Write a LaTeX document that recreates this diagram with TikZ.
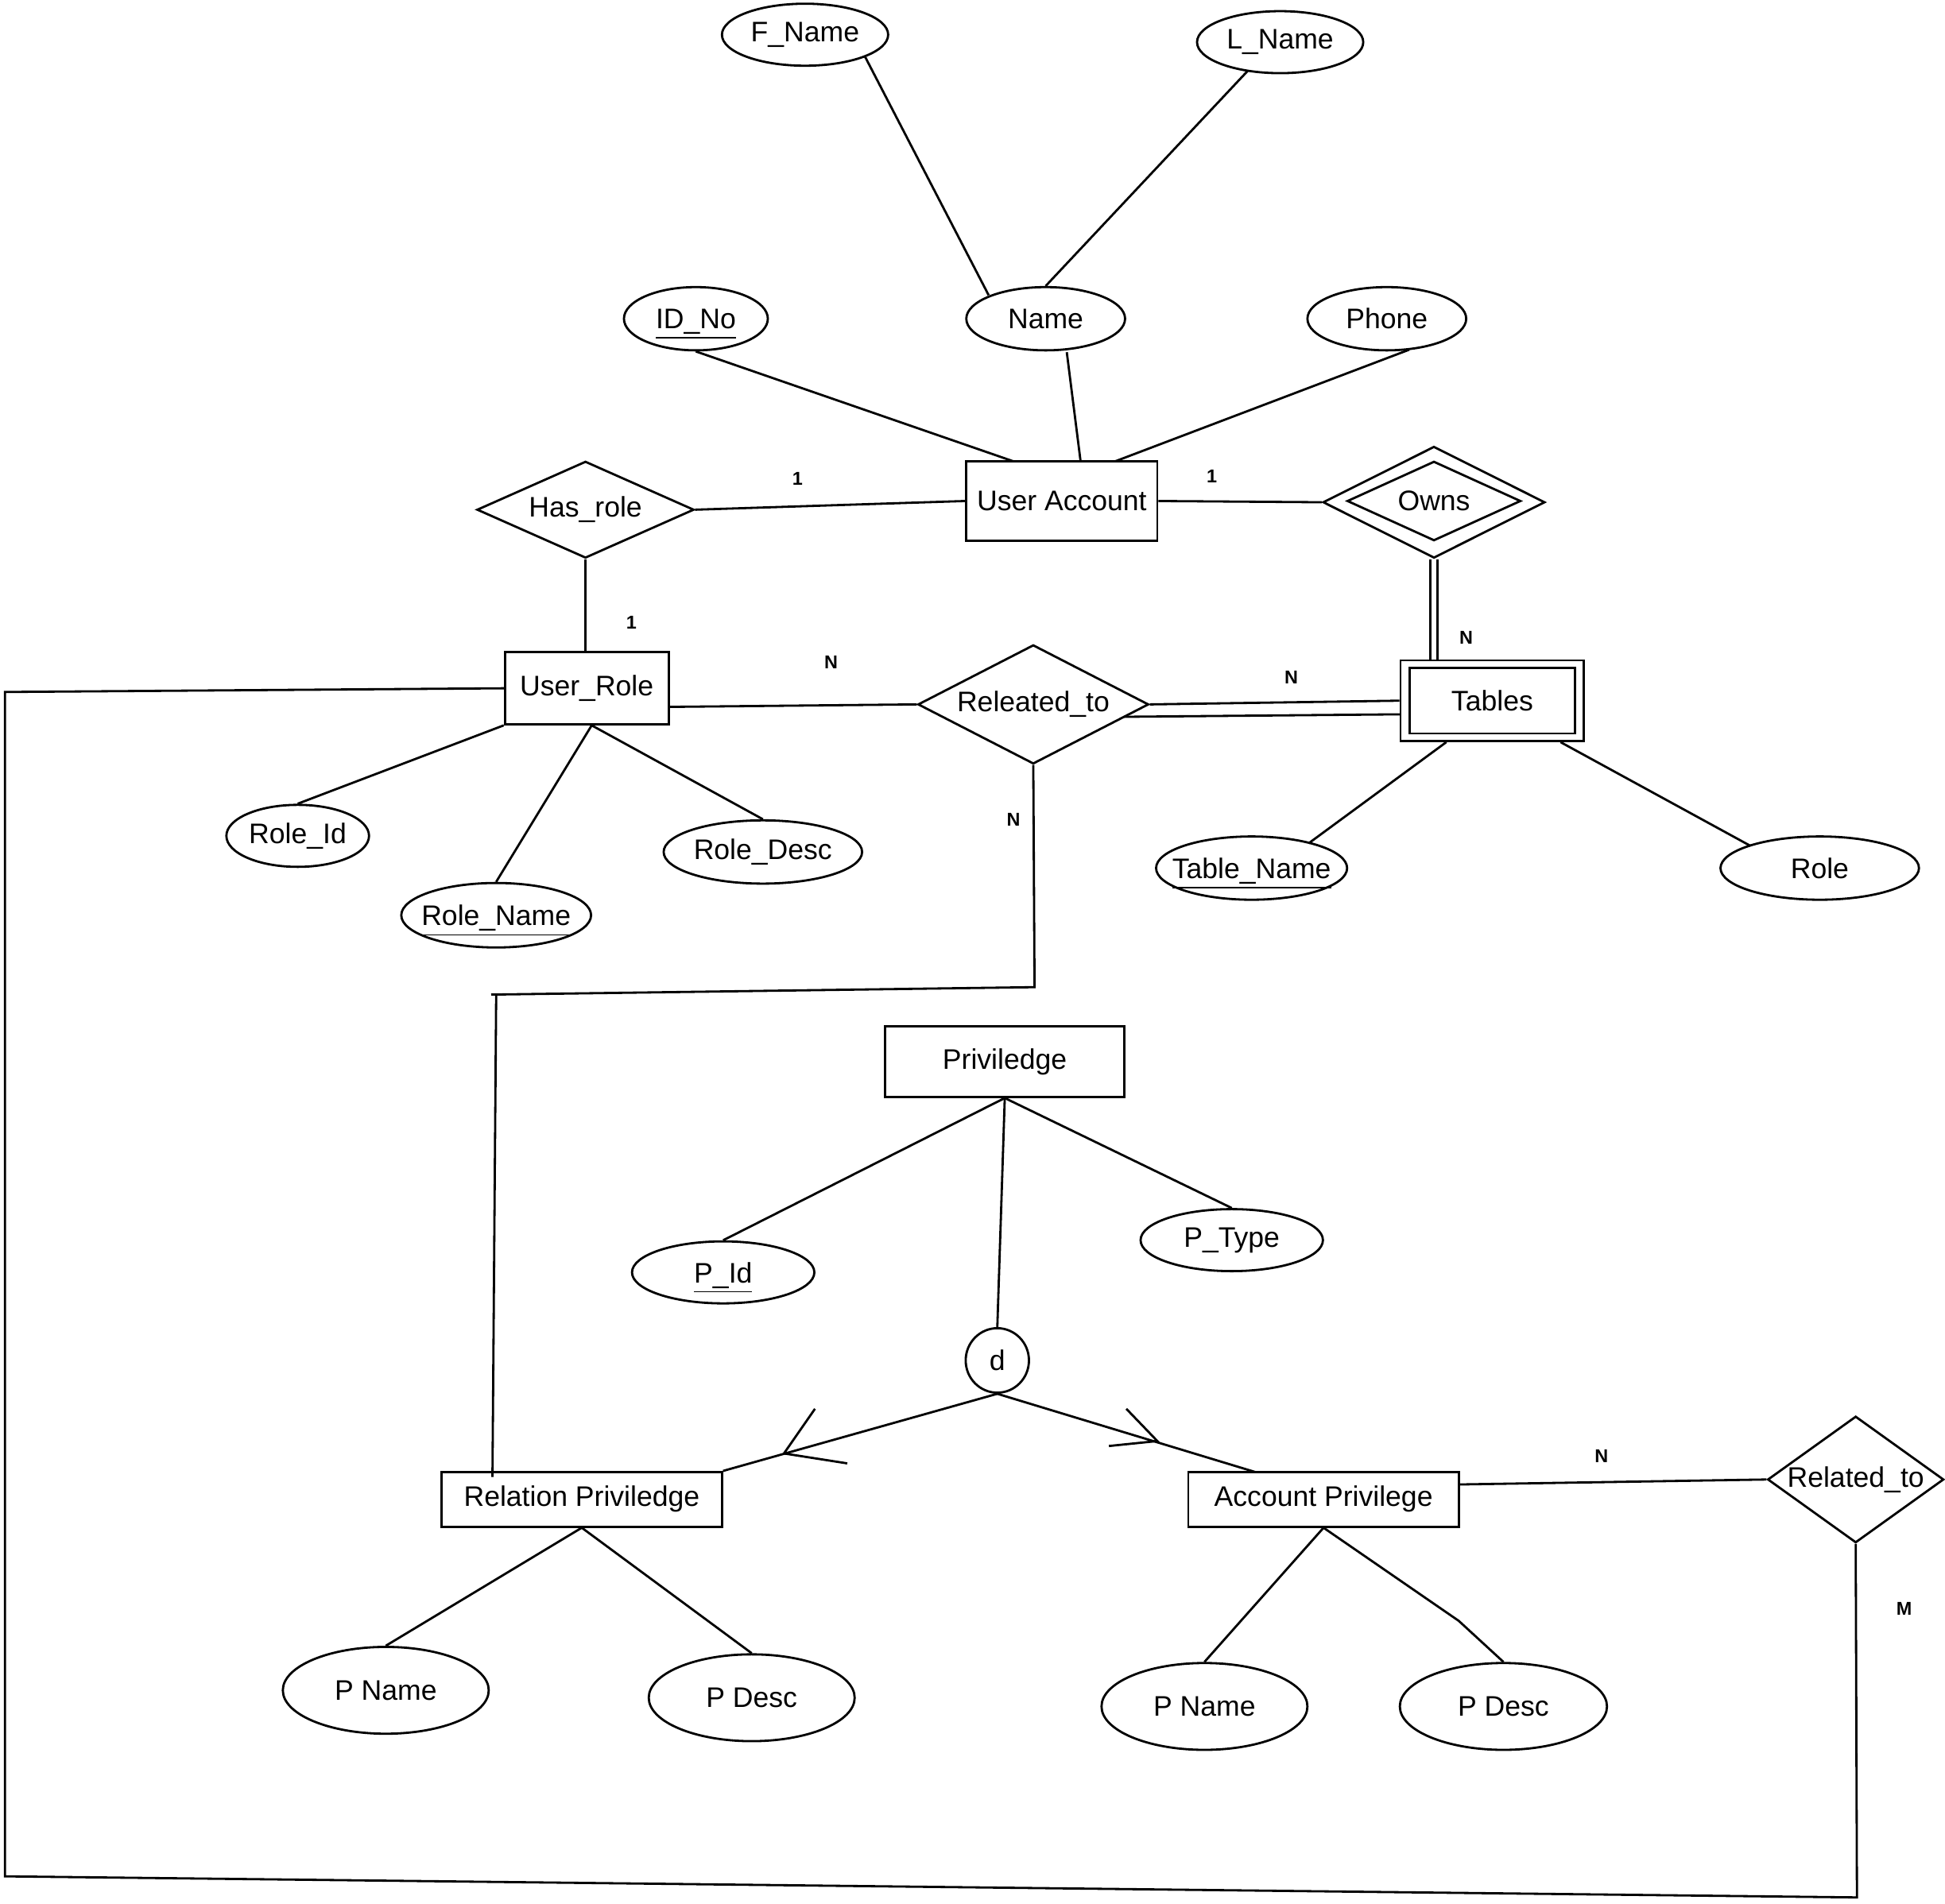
\documentclass[tikz,border=0pt]{standalone}
\usepackage{fontspec}
\setmainfont{Liberation Sans}
\usetikzlibrary{shapes.geometric,calc}
\begin{document}
\begin{tikzpicture}[x=0.5pt,y=-0.5pt,
  every node/.style={font=\fontsize{11.4}{13.7}\selectfont},
  ln/.style={line width=0.9pt},
  attr/.style={ellipse,draw,line width=0.9pt,inner sep=0pt},
  ent/.style={rectangle,draw,line width=0.9pt,inner sep=0pt},
  rel/.style={diamond,draw,line width=0.9pt,inner sep=0pt,aspect=1},
  ukey/.style={label={[yshift=-2.2pt]center:\underline{#1}}},
  card/.style={font=\fontsize{7.5}{9}\selectfont\bfseries,inner sep=0pt}]
\path[fill=white,use as bounding box] (0,0) rectangle (1568,1535);

% ---------- nodes ----------
\node[attr,minimum width=67pt,minimum height=25pt,label=center:F\_Name] (fname) at (649,28) {};
\node[attr,minimum width=67pt,minimum height=25pt,label=center:L\_Name] (lname) at (1032,34) {};
\node[attr,minimum width=58pt,minimum height=25.5pt,ukey=ID\_No] (idno) at (561,257) {};
\node[attr,minimum width=64pt,minimum height=25.5pt,label=center:Name] (name) at (843,257) {};
\node[attr,minimum width=64pt,minimum height=25.5pt,label=center:Phone] (phone) at (1118,257) {};
\node[ent,minimum width=77pt,minimum height=32pt] (ua) at (856,404) {User Account};
\node[rel,minimum width=87.5pt,minimum height=39pt,label=center:Has\_role] (hasrole) at (472,411) {};
\node[rel,minimum width=89.5pt,minimum height=45pt] (owns) at (1156,405) {};
\node[rel,minimum width=70pt,minimum height=32pt,label=center:Owns] (ownsin) at (1156,404) {};
\node[ent,minimum width=66pt,minimum height=29pt] (urole) at (473,555) {User\_Role};
\node[rel,minimum width=93pt,minimum height=48pt,label=center:Releated\_to] (relat) at (833,568) {};
\node[ent,minimum width=74pt,minimum height=32.5pt] (tables) at (1203,565) {};
\node[ent,minimum width=66.5pt,minimum height=26.5pt] (tablesin) at (1203,565) {Tables};
\node[attr,minimum width=57.5pt,minimum height=25pt,label=center:Role\_Id] (roleid) at (240,674) {};
\node[attr,minimum width=76.5pt,minimum height=26pt,ukey=Role\_Name] (rolename) at (400,738) {};
\node[attr,minimum width=80pt,minimum height=25.5pt,label=center:Role\_Desc] (roledesc) at (615,687) {};
\node[attr,minimum width=77pt,minimum height=25.5pt,ukey=Table\_Name] (tablename) at (1009,700) {};
\node[attr,minimum width=80pt,minimum height=25.5pt,label=center:Role] (role) at (1467,700) {};
\node[ent,minimum width=96.5pt,minimum height=28.5pt] (priv) at (810,856) {Priviledge};
\node[attr,minimum width=73.5pt,minimum height=25pt,ukey=P\_Id] (pid) at (583,1026) {};
\node[attr,minimum width=73.5pt,minimum height=25pt,label=center:P\_Type] (ptype) at (993,1000) {};
\node[attr,minimum width=25.5pt,minimum height=26pt,label=center:d] (d) at (804,1097) {};
\node[ent,minimum width=113pt,minimum height=22pt] (relpriv) at (469,1209) {Relation Priviledge};
\node[ent,minimum width=109pt,minimum height=22pt] (acctpriv) at (1067,1209) {Account Privilege};
\node[rel,minimum width=71pt,minimum height=51pt,label=center:Related\_to] (relto) at (1496,1193) {};
\node[attr,minimum width=83pt,minimum height=35pt,label=center:P Name] (pname1) at (311,1363) {};
\node[attr,minimum width=83pt,minimum height=35pt,label=center:P Desc] (pdesc1) at (606,1369) {};
\node[attr,minimum width=83pt,minimum height=35pt,label=center:P Name] (pname2) at (971,1376) {};
\node[attr,minimum width=83.5pt,minimum height=35pt,label=center:P Desc] (pdesc2) at (1212,1376) {};

% cardinality labels
\node[card] (c1a) at (643,386) {1};
\node[card] (c1b) at (977,384) {1};
\node[card] (c1c) at (509,502) {1};
\node[card] (cna) at (670,534) {N};
\node[card] (cnb) at (1182,514) {N};
\node[card] (cnc) at (1041,546) {N};
\node[card] (cnd) at (817,661) {N};
\node[card] (cne) at (1291,1174) {N};
\node[card] (cm) at (1535,1297) {M};

% free-end coordinates
\coordinate (k1) at (4,558);
\coordinate (k2) at (4,1513);
\coordinate (k3) at (1497,1530);
\coordinate (k4) at (834,796);
\coordinate (k5) at (396,802);
\coordinate (k6) at (400,802);
\coordinate (k7) at (397,1191);
\coordinate (k8) at (1176,1307);

% ---------- connectors ----------
\draw[ln] ($(fname.center)+(48,17)$) -- ($(name.center)+(-46,-19)$);
\draw[ln] ($(lname.center)+(-26,23)$) -- (name.north);
\draw[ln] (idno.south) -- ($(ua.center)+(-39,-32)$);
\draw[ln] ($(name.center)+(17,27)$) -- ($(ua.center)+(15,-33)$);
\draw[ln] ($(phone.center)+(18,25)$) -- ($(ua.center)+(43,-32)$);
\draw[ln] (hasrole.east) -- (ua.west);
\draw[ln] (ua.east) -- (owns.west);
\draw[line width=0.7pt,double,double distance=2.2pt] (owns.south) -- (tables.north -| owns.south);
\draw[ln] (hasrole.south) -- (urole.north -| hasrole.south);
\draw[ln] ($(urole.east)+(0,15)$) -- (relat.west);
\draw[ln] (relat.east) -- (tables.west);
\draw[ln] ($(relat.center)+(73,10)$) -- ($(tables.center)+(-74,11)$);
\draw[ln] (urole.south west) -- (roleid.north);
\draw[ln] ($(urole.south)+(4,0)$) -- (rolename.north);
\draw[ln] ($(urole.south)+(4,0)$) -- (roledesc.north);
\draw[ln] ($(tables.south)+(-37,0)$) -- ($(tablename.center)+(46,-20)$);
\draw[ln] ($(tables.south)+(55,0)$) -- ($(role.center)+(-56,-18)$);
\draw[ln] (relat.south) -- (k4) -- (k5);
\draw[ln] (k6) -- (k7);
\draw[ln] (urole.west) -- (k1) -- (k2) -- (k3) -- (relto.south);
\draw[ln] (priv.south) -- (pid.north);
\draw[ln] (priv.south) -- (ptype.north);
\draw[ln] (priv.south) -- (d.north);
\draw[ln] (d.south) -- (relpriv.north east);
\draw[ln] (d.south) -- ($(acctpriv.center)+(-55,-22)$);
\draw[ln] ($(acctpriv.east)+(0,-12)$) -- (relto.west);
\draw[ln] (relpriv.south) -- (pname1.north);
\draw[ln] (relpriv.south) -- (pdesc1.north);
\draw[ln] (acctpriv.south) -- (pname2.north);
\draw[ln] (acctpriv.south) -- (k8) -- (pdesc2.north);

% subset marks
\draw[ln] (657,1136) -- (632,1172) -- (683,1180);
\draw[ln] (908,1136) -- (933,1162) -- (894,1166);
\end{tikzpicture}
\end{document}
